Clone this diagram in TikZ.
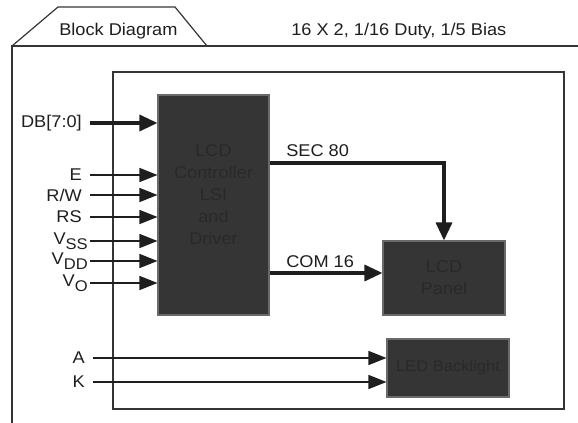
\documentclass[tikz,border=0pt]{standalone}
\usepackage{fontspec}
\setmainfont{Liberation Sans}[FakeStretch=1.07]
\usepackage{tikz}
\usetikzlibrary{arrows.meta,positioning}
\definecolor{BlockFill}{HTML}{353535}
\definecolor{BlockText}{gray}{0.16}
\definecolor{BlockEdge}{HTML}{6A6A6A}
\definecolor{LineDark}{HTML}{1E1E1E}
\newcommand{\vpin}[1]{V\raisebox{-4pt}{\fontsize{11.6}{13}\selectfont #1}}

\begin{document}
\begin{tikzpicture}[
  x=0.75pt, y=-0.75pt,
  font=\fontsize{12.75}{16.5}\selectfont,
  % dark function blocks
  blk/.style={draw=BlockEdge, fill=BlockFill, line width=0.8pt, inner sep=0pt},
  blktxt/.style={text=BlockText, align=center, inner sep=0pt},
  % plain text labels
  lbl/.style={inner sep=0pt, text=LineDark},
  pin/.style={inner ysep=0pt, text=LineDark},
  % connectors
  sig/.style={-{Triangle[length=13.5pt, width=10.5pt]}, draw=LineDark, line width=1.1pt},
  bus/.style={-{Triangle[length=13.5pt, width=12pt]}, draw=LineDark, line width=2.5pt},
  frame/.style={draw=LineDark!90, line width=0.9pt},
]
\useasboundingbox (0,0) rectangle (578,423);

%% -- outer frame with tab ------------------------------------------------
\draw[frame] (12,423) -- (12,46) -- (578,46);
\draw[frame] (12,46) -- (58,7) -- (175,7) -- (207,46);
\node[lbl, anchor=base west] (title) at (59,36) {Block Diagram};
\node[lbl, anchor=base west] (spec) at (291,36) {16 X 2, 1/16 Duty, 1/5 Bias};

%% -- module outline ------------------------------------------------------
\draw[frame, line width=1.1pt] (113,72) rectangle (564,409);

%% -- blocks --------------------------------------------------------------
\node[blk, minimum width=83.25pt, minimum height=165pt] (ctrl) at (213.5,205) {};
\node[blktxt] (ctrltxt) at ([yshift=8pt]ctrl.center)
  {LCD\\Controller\\LSI\\and\\Driver};
\node[blk, blktxt, minimum width=91.5pt, minimum height=55.5pt] (panel) at (444,278)
  {LCD\\Panel};
\node[blk, blktxt, minimum width=91.5pt, minimum height=43.5pt,
      font=\fontsize{11.6}{14}\selectfont] (light) at (448,368) {LED Backlight};

%% -- data bus ------------------------------------------------------------
\node[pin, anchor=east, inner xsep=6pt] (db) at (90,123) {DB[7:0]};
\draw[bus] (db.east) -- (ctrl.west |- db.east);

%% -- control and supply pins ---------------------------------------------
\foreach \n/\y/\t/\g in {e/175/E/6pt, rw/195/{R/W}/6pt, rs/217/RS/6pt,
                         vss/241/{\vpin{SS}}/1.5pt, vdd/261/{\vpin{DD}}/1.5pt,
                         vo/283/{\vpin{O}}/1.5pt}
{
  \node[pin, anchor=east, inner xsep=\g] (\n) at (90,\y) {\t};
  \draw[sig] (\n.east) -- (ctrl.west |- \n.east);
}

%% -- driver outputs ------------------------------------------------------
\draw[bus] (ctrl.east |- 0,163) -| (panel.north);
\node[lbl, anchor=base west] (sec) at (286,157) {SEC 80};
\draw[bus] (ctrl.east |- 0,273) -- (panel.west |- 0,273);
\node[lbl, anchor=base west] (com) at (286,268) {COM 16};

%% -- backlight pins ------------------------------------------------------
\foreach \n/\y/\t in {a/358/A, k/382/K}
{
  \node[pin, anchor=east, inner xsep=6pt] (\n) at (93,\y) {\t};
  \draw[sig] (\n.east) -- (light.west |- \n.east);
}

\end{tikzpicture}
\end{document}
